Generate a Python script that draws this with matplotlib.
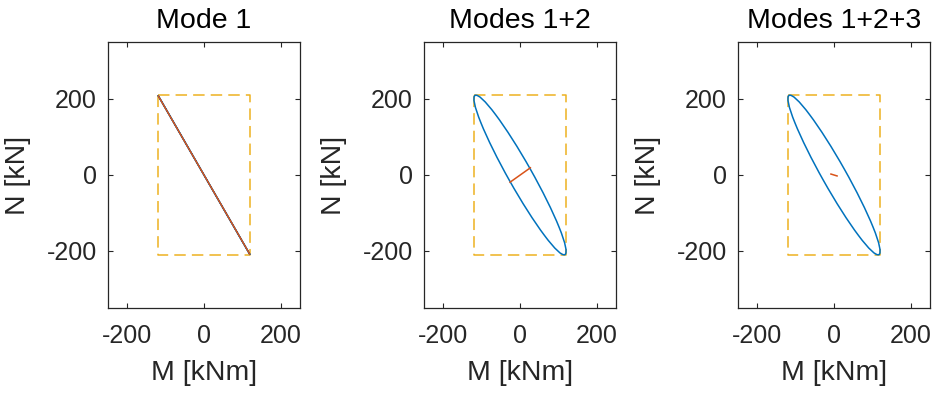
import numpy as np
import matplotlib
matplotlib.use("Agg")
import matplotlib.pyplot as plt
from matplotlib.patches import Ellipse

titles = ["Mode 1", "Modes 1+2", "Modes 1+2+3"]

# envelope box (max |M|, max |N|)
m_max = 120
n_max = 210

# ellipse of combined response: semi-axes and orientation (deg)
ell_a = [241.9, 239.9, 239.9]
ell_b = [0.0, 31.0, 31.0]
ell_ang = [-60.26, -60.83, -60.83]

# red segment end points per panel
red_m = [[-119, 119], [-26, 27], [-8, 8]]
red_n = [[208, -208], [-19, 19], [2.5, -2.5]]

ticks = [-200, 0, 200]

plt.rcParams['font.family'] = ['Liberation Sans', 'DejaVu Sans']
plt.rcParams['axes.unicode_minus'] = False
dark = '#262626'

fig = plt.figure(figsize=(9.33, 3.94), dpi=100)
lefts = [108, 424, 738]

for i in range(3):
    ax = fig.add_axes([lefts[i] / 933, (394 - 308) / 394, 192 / 933, 266 / 394])

    box_m = [-m_max, m_max, m_max, -m_max, -m_max]
    box_n = [n_max, n_max, -n_max, -n_max, n_max]
    ax.plot(box_m, box_n, color='#EDB120', lw=1.1, ls=(0, (7.5, 4)), zorder=2)

    e = Ellipse((0, 0), 2 * ell_a[i], 2 * ell_b[i], angle=ell_ang[i],
                fill=False, edgecolor='#0072BD', lw=1.1, zorder=3)
    ax.add_patch(e)
    ax.plot(red_m[i], red_n[i], color='#D95319', lw=1.1, zorder=4)

    ax.set_xlim(-250, 250)
    ax.set_ylim(-350, 350)
    ax.set_xticks(ticks)
    ax.set_yticks(ticks)
    ax.tick_params(direction='in', top=True, right=True, length=3.6, width=0.8,
                   colors=dark, labelsize=18, labelcolor=dark)
    ax.tick_params(axis='x', pad=11.5)
    ax.tick_params(axis='y', pad=8)
    for s in ax.spines.values():
        s.set_color(dark)
        s.set_linewidth(0.9)
    ax.set_xlabel("M [kNm]", fontsize=20.5, color=dark, labelpad=9)
    ax.set_ylabel("N [kN]", fontsize=20.5, color=dark, labelpad=11.5)
    ax.set_title(titles[i], fontsize=20.5, color='black', pad=10)

fig.savefig("out.png", dpi=100)
